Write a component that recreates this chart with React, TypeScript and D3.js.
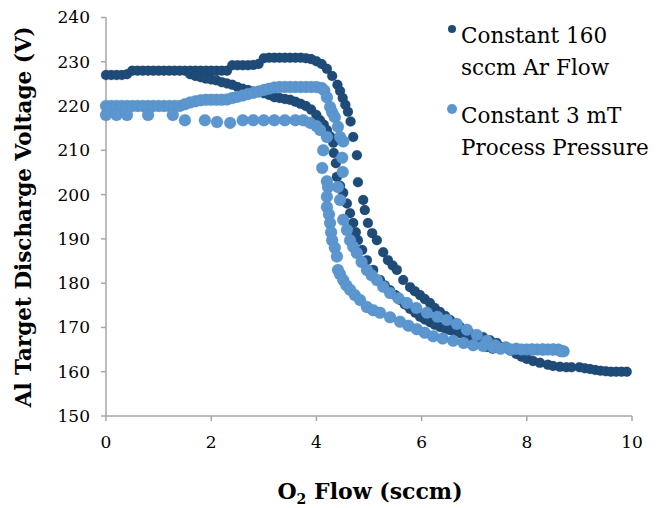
import React from "react";
import * as d3 from "d3";

type P = [number, number];

// Constant 160 sccm Ar Flow — outer (upper) branch
const darkOuter: P[] = [
  [0, 227], [0.1, 227], [0.2, 227], [0.3, 227], [0.4, 227.2],
  [0.5, 228], [0.6, 228], [0.7, 228], [0.8, 228], [0.9, 228], [1.0, 228], [1.1, 228], [1.2, 228], [1.3, 228],
  [1.4, 228], [1.5, 228], [1.6, 228], [1.7, 228], [1.8, 228], [1.9, 228], [2.0, 228], [2.1, 228], [2.2, 228], [2.3, 228],
  [2.4, 229.2], [2.5, 229.2], [2.6, 229.2], [2.7, 229.2], [2.8, 229.3], [2.9, 229.5],
  [3.0, 230.8], [3.1, 230.9], [3.2, 230.9], [3.3, 230.9], [3.4, 230.9], [3.5, 230.9], [3.6, 230.9], [3.7, 230.9], [3.8, 230.8],
  [3.9, 230.6], [4.0, 230.1], [4.1, 229.5], [4.2, 228.4], [4.3, 226.8], [4.4, 224.8], [4.45, 223.4], [4.5, 221.8],
  [4.55, 220.3], [4.6, 218.7], [4.65, 216.5], [4.7, 213.0], [4.77, 208.9], [4.79, 202.8], [4.89, 198.8], [4.92, 196.5],
  [4.98, 193.6], [5.06, 191.3], [5.15, 189.7], [5.27, 187.0], [5.36, 185.2], [5.45, 184.0], [5.53, 183.0], [5.65, 180.7],
  [5.78, 179.1], [5.87, 178.2], [5.97, 177.3], [6.06, 176.4], [6.16, 175.5], [6.25, 174.4], [6.35, 173.5], [6.45, 172.6],
  [6.54, 171.7], [6.63, 170.9], [6.73, 170.1], [6.82, 169.4], [6.92, 168.7], [7.05, 168.2], [7.17, 167.8], [7.3, 167.1],
  [7.43, 166.5], [7.55, 165.5], [7.68, 164.8], [7.8, 164.0], [7.9, 163.4], [8.0, 162.9], [8.12, 162.4], [8.25, 162.0],
  [8.4, 161.6], [8.5, 161.3], [8.63, 161.1], [8.75, 161.0], [8.85, 161.0], [9.0, 161.0], [9.1, 160.8], [9.2, 160.6],
  [9.3, 160.4], [9.4, 160.2], [9.5, 160.1], [9.6, 160.0], [9.7, 160.0], [9.8, 160.0], [9.9, 160.0],
];

// Constant 160 sccm Ar Flow — inner (lower) branch
const darkInner: P[] = [
  [1.6, 227.2], [1.7, 226.8], [1.8, 226.5], [1.9, 226.2], [2.0, 226.0], [2.1, 225.8], [2.2, 225.4], [2.3, 225.1],
  [2.4, 224.8], [2.5, 224.3], [2.6, 223.9], [2.7, 223.6], [2.8, 223.3], [2.9, 223.1], [3.0, 222.9], [3.1, 222.5],
  [3.2, 222.0], [3.3, 221.8], [3.4, 221.6], [3.5, 221.4], [3.6, 221.0], [3.7, 220.5], [3.8, 220.0], [3.9, 219.2],
  [4.0, 218.0], [4.07, 216.8], [4.14, 215.8], [4.2, 214.6], [4.26, 213.2], [4.32, 211.7], [4.33, 209.4], [4.37, 207.1],
  [4.39, 204.0], [4.45, 202.0], [4.51, 200.4], [4.58, 198.0], [4.64, 195.8], [4.7, 193.6], [4.75, 191.5], [4.79, 189.7],
  [4.87, 187.5], [4.96, 185.2], [5.08, 183.0], [5.21, 180.7], [5.3, 179.5], [5.4, 178.4], [5.5, 177.3], [5.59, 176.2],
  [5.68, 175.2], [5.78, 174.2], [5.88, 173.3], [5.97, 172.4], [6.06, 171.8], [6.16, 171.2], [6.25, 170.6], [6.35, 170.1],
  [6.45, 169.7], [6.54, 169.4], [6.63, 169.0], [6.73, 168.7], [6.82, 168.1], [6.9, 167.5], [7.0, 167.0], [7.07, 166.5],
  [7.16, 166.0], [7.24, 165.6], [7.35, 165.2],
];

// Constant 3 mT Process Pressure — upper branch
const lightUpper: P[] = [
  [0, 220], [0.1, 220], [0.2, 220], [0.3, 220], [0.4, 220], [0.5, 220], [0.6, 220], [0.7, 220], [0.8, 220],
  [0.9, 220], [1.0, 220], [1.1, 220], [1.2, 220], [1.3, 220], [1.4, 220], [1.5, 220.4], [1.6, 220.8], [1.7, 221.1],
  [1.8, 221.3], [1.9, 221.4], [2.0, 221.4], [2.1, 221.4], [2.2, 221.4], [2.3, 221.5], [2.4, 221.8], [2.5, 222.1],
  [2.6, 222.4], [2.7, 222.7], [2.8, 223.0], [2.9, 223.3], [3.0, 223.6], [3.1, 223.9], [3.2, 224.2], [3.3, 224.3],
  [3.4, 224.3], [3.5, 224.3], [3.6, 224.3], [3.7, 224.3], [3.8, 224.3], [3.9, 224.3], [4.0, 224.3], [4.1, 224.1],
  [4.15, 223.5], [4.2, 222.0], [4.26, 219.8], [4.3, 218.6], [4.35, 217.5], [4.41, 215.3], [4.45, 213.0], [4.51, 212.0],
  [4.49, 208.3], [4.5, 205.1], [4.41, 201.7], [4.45, 198.8], [4.51, 194.3], [4.58, 192.0], [4.64, 189.7], [4.7, 188.2],
  [4.77, 186.8], [4.86, 184.8], [4.96, 183.0], [5.05, 181.8], [5.15, 180.7], [5.27, 179.2], [5.4, 177.8], [5.56, 176.6],
  [5.72, 175.5], [5.9, 174.4], [6.1, 173.3], [6.3, 172.4], [6.48, 171.7], [6.67, 170.8], [6.86, 169.5], [7.05, 168.3],
  [7.24, 167.0], [7.4, 166.0], [7.6, 165.5], [7.8, 165.2], [8.0, 165.0], [8.1, 165.0], [8.2, 165.0], [8.3, 165.0],
  [8.4, 165.0], [8.5, 165.0], [8.6, 165.0], [8.7, 164.6],
];

// Constant 3 mT Process Pressure — lower branch
const lightLower: P[] = [
  [0, 218], [0.2, 218], [0.4, 218], [0.8, 218], [1.27, 218], [1.5, 216.8], [1.88, 216.8], [2.11, 216.4],
  [2.36, 216.2], [2.6, 216.8], [2.8, 216.8], [3.0, 216.8], [3.2, 216.8], [3.4, 216.8], [3.6, 216.8], [3.75, 216.8],
  [3.88, 216.2], [4.0, 215.5], [4.07, 214.6], [4.2, 213.0], [4.13, 210.0], [4.11, 206.0], [4.2, 203.0], [4.22, 201.7],
  [4.2, 199.5], [4.2, 197.2], [4.24, 195.5], [4.26, 193.6], [4.28, 191.5], [4.3, 189.7], [4.35, 188.0], [4.39, 186.0],
  [4.41, 183.0], [4.45, 182.0], [4.51, 180.7], [4.57, 179.5], [4.64, 178.5], [4.73, 177.3], [4.83, 176.2], [4.96, 174.6],
  [5.08, 173.9], [5.21, 173.3], [5.4, 172.3], [5.59, 171.3], [5.75, 170.4], [5.91, 169.6], [6.06, 168.8], [6.22, 168.0],
  [6.4, 167.5], [6.6, 167.0], [6.8, 166.5], [6.98, 166.0], [7.17, 165.8], [7.36, 165.5], [7.5, 165.2], [7.7, 165.0],
  [7.9, 165.0], [8.1, 165.0], [8.3, 165.0], [8.5, 165.0], [8.65, 164.6],
];

const xTicks = [0, 2, 4, 6, 8, 10];
const yTicks = [150, 160, 170, 180, 190, 200, 210, 220, 230, 240];
const seriesNames = ["Constant 160|sccm Ar Flow", "Constant 3 mT|Process Pressure"];

const W = 657, H = 508;
const DARK = "#1f4b78";
const LIGHT = "#5b96cf";
const AXIS = "#a6a6a6";
const FONT = "'DejaVu Serif', serif";

export default function App() {
  const x = d3.scaleLinear().domain([0, 10]).range([106, 632]);
  const y = d3.scaleLinear().domain([150, 240]).range([416, 17.5]);

  const darkPts = [...darkOuter, ...darkInner];
  const lightPts = [...lightUpper, ...lightLower];

  return (
    <svg width={W} height={H} style={{ position: "absolute", left: 0, top: 0, background: "#fff" }}>
      {/* axes */}
      <line x1={x(0)} x2={x(0)} y1={y(240)} y2={y(150)} stroke={AXIS} strokeWidth={1.5} />
      <line x1={x(0)} x2={x(10)} y1={y(150)} y2={y(150)} stroke={AXIS} strokeWidth={1.5} />
      {yTicks.map((t) => (
        <g key={"y" + t}>
          <line x1={x(0) - 5} x2={x(0)} y1={y(t)} y2={y(t)} stroke={AXIS} strokeWidth={1.5} />
          <text x={x(0) - 16} y={y(t)} dy="0.35em" textAnchor="end" fontFamily={FONT} fontSize={17} fill="#000">
            {t}
          </text>
        </g>
      ))}
      {xTicks.map((t) => (
        <g key={"x" + t}>
          <line x1={x(t)} x2={x(t)} y1={y(150)} y2={y(150) + 5} stroke={AXIS} strokeWidth={1.5} />
          <text x={x(t)} y={y(150) + 32} textAnchor="middle" fontFamily={FONT} fontSize={17} fill="#000">
            {t}
          </text>
        </g>
      ))}
      {/* data */}
      <g>
        {darkPts.map((p, i) => (
          <circle key={"d" + i} cx={x(p[0])} cy={y(p[1])} r={5} fill={DARK} stroke="#183c61" strokeOpacity={0.4} strokeWidth={0.5} />
        ))}
      </g>
      <g>
        {lightPts.map((p, i) => (
          <circle key={"l" + i} cx={x(p[0])} cy={y(p[1])} r={6} fill={LIGHT} stroke="#4f86bb" strokeOpacity={0.4} strokeWidth={0.5} />
        ))}
      </g>
      {/* axis titles */}
      <text
        transform={`translate(23,${(y(240) + y(150)) / 2}) rotate(-90)`}
        textAnchor="middle"
        dy="0.35em"
        fontFamily={FONT}
        fontWeight="bold"
        fontSize={21.5}
        fill="#000"
      >
        Al Target Discharge Voltage (V)
      </text>
      <text x={370} y={499} textAnchor="middle" fontFamily={FONT} fontWeight="bold" fontSize={22} fill="#000">
        O<tspan fontSize={14} dy={5}>2</tspan>
        <tspan dy={-5}> Flow (sccm)</tspan>
      </text>
      {/* legend */}
      {seriesNames.map((name, i) => {
        const lines = name.split("|");
        const top = i === 0 ? 43 : 123;
        return (
          <g key={"lg" + i}>
            <circle cx={452} cy={top - 14} r={i === 0 ? 4 : 5} fill={i === 0 ? DARK : LIGHT} />
            {lines.map((ln, j) => (
              <text key={j} x={461} y={top + j * 32} fontFamily={FONT} fontSize={21.5} fill="#000">
                {ln}
              </text>
            ))}
          </g>
        );
      })}
    </svg>
  );
}
